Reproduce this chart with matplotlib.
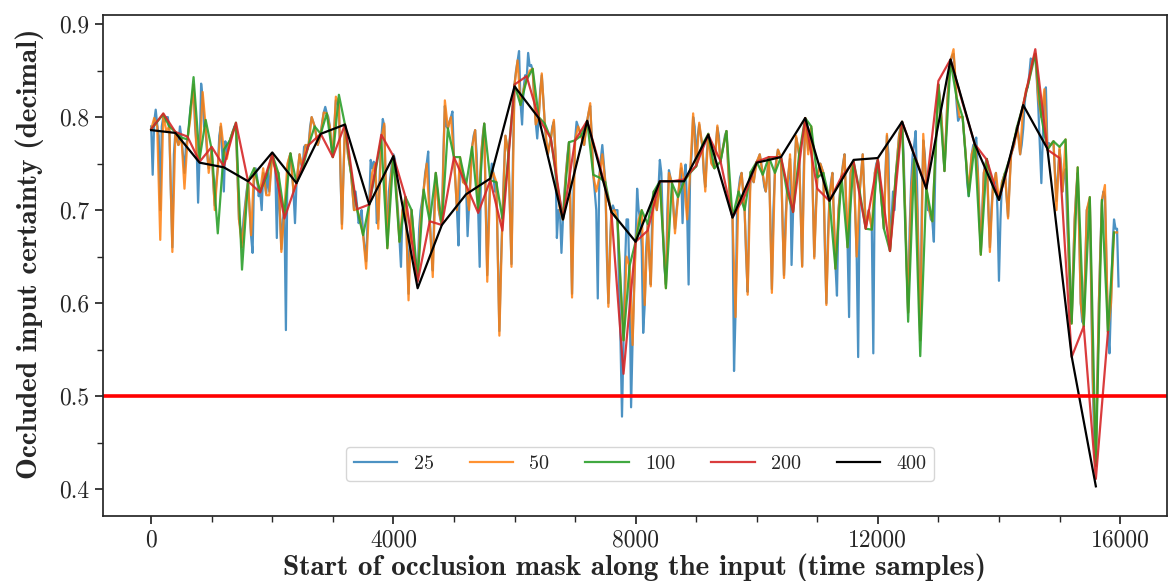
import numpy as np
import matplotlib
matplotlib.use("Agg")
import matplotlib.pyplot as plt
from matplotlib.ticker import MultipleLocator

# Mask sizes (also the stride between consecutive mask positions)
mask_sizes = [25, 50, 100, 200, 400]
signal_length = 16000

# Certainty of the occluded input, one list per mask size
certainty_25 = [
    0.790, 0.738, 0.795, 0.808, 0.792, 0.780, 0.700, 0.790, 0.800, 0.795, 0.800, 0.800, 0.785, 0.720, 0.660, 0.760, 0.784, 0.775, 0.770, 0.790,
    0.778, 0.760, 0.740, 0.770, 0.776, 0.790, 0.810, 0.820, 0.830, 0.790, 0.770, 0.708, 0.760, 0.836, 0.820, 0.790, 0.785, 0.760, 0.745, 0.755,
    0.765, 0.730, 0.705, 0.730, 0.745, 0.780, 0.790, 0.760, 0.720, 0.774, 0.760, 0.770, 0.775, 0.780, 0.785, 0.790, 0.788, 0.740, 0.690, 0.680,
    0.665, 0.690, 0.705, 0.720, 0.731, 0.700, 0.672, 0.654, 0.740, 0.745, 0.735, 0.715, 0.720, 0.700, 0.740, 0.730, 0.718, 0.740, 0.720, 0.745,
    0.760, 0.750, 0.745, 0.670, 0.740, 0.700, 0.658, 0.690, 0.700, 0.571, 0.745, 0.755, 0.761, 0.740, 0.720, 0.686, 0.729, 0.745, 0.760, 0.750,
    0.745, 0.768, 0.770, 0.765, 0.770, 0.790, 0.800, 0.795, 0.790, 0.780, 0.770, 0.775, 0.782, 0.795, 0.805, 0.811, 0.804, 0.800, 0.790, 0.770,
    0.757, 0.790, 0.818, 0.815, 0.812, 0.740, 0.685, 0.740, 0.790, 0.780, 0.760, 0.750, 0.740, 0.720, 0.700, 0.720, 0.705, 0.686, 0.690, 0.700,
    0.675, 0.660, 0.645, 0.690, 0.706, 0.754, 0.745, 0.752, 0.750, 0.686, 0.690, 0.740, 0.777, 0.798, 0.790, 0.720, 0.662, 0.720, 0.735, 0.750,
    0.760, 0.755, 0.720, 0.700, 0.670, 0.639, 0.700, 0.705, 0.714, 0.660, 0.610, 0.680, 0.700, 0.680, 0.650, 0.640, 0.628, 0.680, 0.700, 0.710,
    0.722, 0.740, 0.750, 0.763, 0.690, 0.660, 0.635, 0.700, 0.740, 0.720, 0.700, 0.690, 0.684, 0.760, 0.812, 0.790, 0.788, 0.795, 0.800, 0.806,
    0.757, 0.730, 0.700, 0.662, 0.750, 0.745, 0.730, 0.730, 0.727, 0.672, 0.705, 0.740, 0.768, 0.780, 0.786, 0.760, 0.700, 0.639, 0.760, 0.780,
    0.793, 0.700, 0.630, 0.700, 0.732, 0.750, 0.740, 0.720, 0.730, 0.650, 0.570, 0.640, 0.691, 0.740, 0.780, 0.770, 0.760, 0.700, 0.642, 0.760,
    0.835, 0.850, 0.860, 0.871, 0.815, 0.792, 0.830, 0.845, 0.840, 0.869, 0.855, 0.856, 0.850, 0.820, 0.795, 0.777, 0.800, 0.830, 0.845, 0.820,
    0.793, 0.770, 0.760, 0.770, 0.777, 0.790, 0.795, 0.760, 0.670, 0.700, 0.700, 0.654, 0.690, 0.720, 0.740, 0.760, 0.773, 0.700, 0.610, 0.720,
    0.775, 0.795, 0.790, 0.785, 0.780, 0.775, 0.770, 0.785, 0.796, 0.805, 0.812, 0.780, 0.738, 0.720, 0.700, 0.605, 0.735, 0.755, 0.770, 0.750,
    0.730, 0.650, 0.600, 0.660, 0.700, 0.705, 0.700, 0.700, 0.700, 0.620, 0.560, 0.478, 0.560, 0.640, 0.690, 0.690, 0.620, 0.488, 0.560, 0.620,
    0.666, 0.723, 0.700, 0.690, 0.660, 0.568, 0.598, 0.660, 0.685, 0.650, 0.620, 0.700, 0.720, 0.710, 0.700, 0.720, 0.754, 0.740, 0.680, 0.640,
    0.620, 0.700, 0.743, 0.735, 0.729, 0.700, 0.680, 0.700, 0.714, 0.730, 0.745, 0.686, 0.731, 0.749, 0.700, 0.620, 0.740, 0.760, 0.800, 0.790,
    0.747, 0.780, 0.792, 0.780, 0.770, 0.740, 0.725, 0.760, 0.782, 0.770, 0.752, 0.748, 0.745, 0.770, 0.789, 0.780, 0.752, 0.760, 0.770, 0.780,
    0.785, 0.750, 0.720, 0.700, 0.692, 0.527, 0.590, 0.700, 0.722, 0.735, 0.740, 0.720, 0.700, 0.650, 0.612, 0.700, 0.741, 0.735, 0.730, 0.745,
    0.752, 0.755, 0.760, 0.750, 0.738, 0.725, 0.720, 0.740, 0.757, 0.690, 0.615, 0.700, 0.740, 0.755, 0.765, 0.760, 0.757, 0.690, 0.630, 0.690,
    0.720, 0.740, 0.755, 0.641, 0.698, 0.750, 0.778, 0.770, 0.760, 0.700, 0.640, 0.740, 0.797, 0.785, 0.765, 0.780, 0.788, 0.720, 0.650, 0.700,
    0.735, 0.745, 0.750, 0.745, 0.740, 0.660, 0.600, 0.670, 0.712, 0.730, 0.740, 0.690, 0.640, 0.608, 0.700, 0.720, 0.736, 0.750, 0.760, 0.710,
    0.662, 0.585, 0.740, 0.748, 0.752, 0.700, 0.652, 0.542, 0.720, 0.740, 0.760, 0.720, 0.682, 0.690, 0.700, 0.690, 0.680, 0.546, 0.740, 0.750,
    0.754, 0.740, 0.720, 0.700, 0.680, 0.740, 0.780, 0.760, 0.658, 0.690, 0.720, 0.700, 0.740, 0.760, 0.780, 0.790, 0.795, 0.760, 0.700, 0.640,
    0.590, 0.680, 0.730, 0.760, 0.770, 0.785, 0.720, 0.640, 0.560, 0.700, 0.775, 0.760, 0.724, 0.700, 0.700, 0.690, 0.688, 0.666, 0.750, 0.800,
    0.835, 0.820, 0.800, 0.770, 0.742, 0.780, 0.820, 0.845, 0.860, 0.866, 0.868, 0.845, 0.815, 0.796, 0.800, 0.800, 0.800, 0.780, 0.760, 0.730,
    0.715, 0.740, 0.760, 0.770, 0.771, 0.778, 0.745, 0.700, 0.655, 0.700, 0.740, 0.750, 0.755, 0.700, 0.660, 0.700, 0.725, 0.730, 0.740, 0.700,
    0.624, 0.690, 0.730, 0.735, 0.740, 0.715, 0.693, 0.730, 0.760, 0.765, 0.770, 0.780, 0.790, 0.780, 0.760, 0.770, 0.787, 0.815, 0.830, 0.832,
    0.845, 0.863, 0.860, 0.862, 0.866, 0.840, 0.810, 0.770, 0.729, 0.780, 0.820, 0.832, 0.768, 0.772, 0.770, 0.772, 0.774, 0.740, 0.710, 0.740,
    0.765, 0.750, 0.720, 0.740, 0.744, 0.690, 0.650, 0.600, 0.580, 0.640, 0.690, 0.720, 0.740, 0.680, 0.600, 0.580, 0.578, 0.640, 0.700, 0.705,
    0.712, 0.600, 0.510, 0.450, 0.435, 0.520, 0.600, 0.660, 0.708, 0.720, 0.715, 0.640, 0.570, 0.546, 0.600, 0.660, 0.690, 0.680, 0.680, 0.618,
]

certainty_50 = [
    0.787, 0.799, 0.790, 0.668, 0.803, 0.785, 0.790, 0.655, 0.784, 0.770, 0.778, 0.723, 0.776, 0.800, 0.835, 0.760, 0.755, 0.827, 0.790, 0.740,
    0.765, 0.700, 0.745, 0.793, 0.765, 0.755, 0.775, 0.785, 0.790, 0.690, 0.660, 0.700, 0.731, 0.673, 0.745, 0.730, 0.720, 0.745, 0.716, 0.716,
    0.760, 0.745, 0.740, 0.655, 0.700, 0.750, 0.761, 0.720, 0.729, 0.760, 0.745, 0.770, 0.770, 0.800, 0.790, 0.770, 0.782, 0.805, 0.804, 0.790,
    0.757, 0.822, 0.815, 0.680, 0.792, 0.760, 0.740, 0.700, 0.701, 0.690, 0.673, 0.637, 0.706, 0.740, 0.750, 0.680, 0.777, 0.793, 0.659, 0.730,
    0.758, 0.720, 0.666, 0.700, 0.714, 0.603, 0.700, 0.650, 0.625, 0.690, 0.722, 0.750, 0.688, 0.628, 0.740, 0.700, 0.684, 0.818, 0.788, 0.800,
    0.757, 0.700, 0.757, 0.730, 0.727, 0.700, 0.768, 0.786, 0.700, 0.760, 0.793, 0.623, 0.732, 0.740, 0.730, 0.565, 0.691, 0.780, 0.760, 0.639,
    0.835, 0.861, 0.813, 0.830, 0.840, 0.850, 0.852, 0.792, 0.800, 0.847, 0.793, 0.760, 0.777, 0.797, 0.730, 0.700, 0.690, 0.740, 0.773, 0.606,
    0.775, 0.790, 0.780, 0.770, 0.796, 0.815, 0.738, 0.720, 0.735, 0.760, 0.730, 0.596, 0.698, 0.700, 0.690, 0.620, 0.560, 0.650, 0.640, 0.555,
    0.666, 0.690, 0.700, 0.598, 0.685, 0.618, 0.720, 0.700, 0.731, 0.680, 0.616, 0.740, 0.729, 0.675, 0.714, 0.750, 0.731, 0.690, 0.740, 0.804,
    0.747, 0.794, 0.770, 0.720, 0.782, 0.750, 0.745, 0.791, 0.752, 0.770, 0.785, 0.720, 0.692, 0.585, 0.720, 0.740, 0.700, 0.609, 0.741, 0.730,
    0.752, 0.760, 0.738, 0.720, 0.757, 0.611, 0.740, 0.765, 0.757, 0.627, 0.720, 0.760, 0.698, 0.780, 0.760, 0.639, 0.799, 0.760, 0.790, 0.648,
    0.735, 0.750, 0.740, 0.598, 0.712, 0.740, 0.637, 0.700, 0.736, 0.760, 0.660, 0.740, 0.752, 0.650, 0.720, 0.760, 0.680, 0.700, 0.679, 0.740,
    0.754, 0.720, 0.680, 0.782, 0.656, 0.700, 0.740, 0.780, 0.795, 0.700, 0.590, 0.720, 0.755, 0.700, 0.560, 0.782, 0.724, 0.700, 0.688, 0.760,
    0.835, 0.800, 0.742, 0.820, 0.860, 0.873, 0.821, 0.800, 0.800, 0.760, 0.720, 0.760, 0.771, 0.740, 0.652, 0.740, 0.755, 0.655, 0.725, 0.740,
    0.711, 0.730, 0.740, 0.691, 0.760, 0.770, 0.790, 0.760, 0.813, 0.830, 0.840, 0.860, 0.868, 0.820, 0.800, 0.830, 0.765, 0.770, 0.774, 0.700,
    0.768, 0.720, 0.776, 0.650, 0.578, 0.690, 0.746, 0.600, 0.575, 0.700, 0.714, 0.520, 0.430, 0.600, 0.711, 0.727, 0.569, 0.600, 0.676, 0.676,
]

certainty_100 = [
    0.787, 0.795, 0.803, 0.790, 0.784, 0.778, 0.776, 0.843, 0.755, 0.797,
    0.765, 0.675, 0.765, 0.775, 0.794, 0.636, 0.731, 0.745, 0.720, 0.735,
    0.760, 0.740, 0.695, 0.761, 0.729, 0.745, 0.770, 0.790, 0.782, 0.804,
    0.757, 0.824, 0.792, 0.740, 0.701, 0.673, 0.706, 0.740, 0.777, 0.659,
    0.758, 0.666, 0.714, 0.700, 0.625, 0.722, 0.688, 0.740, 0.684, 0.788,
    0.757, 0.757, 0.727, 0.768, 0.700, 0.793, 0.732, 0.730, 0.691, 0.760,
    0.835, 0.813, 0.840, 0.852, 0.800, 0.793, 0.777, 0.730, 0.690, 0.773,
    0.775, 0.780, 0.796, 0.738, 0.735, 0.730, 0.698, 0.690, 0.560, 0.640,
    0.666, 0.700, 0.685, 0.720, 0.731, 0.616, 0.729, 0.714, 0.731, 0.740,
    0.747, 0.770, 0.782, 0.745, 0.752, 0.785, 0.692, 0.720, 0.700, 0.741,
    0.752, 0.738, 0.757, 0.740, 0.757, 0.720, 0.698, 0.760, 0.799, 0.790,
    0.735, 0.740, 0.712, 0.637, 0.736, 0.660, 0.752, 0.720, 0.680, 0.679,
    0.754, 0.680, 0.656, 0.740, 0.795, 0.580, 0.755, 0.543, 0.724, 0.688,
    0.835, 0.742, 0.860, 0.821, 0.800, 0.715, 0.771, 0.652, 0.755, 0.725,
    0.711, 0.740, 0.760, 0.790, 0.813, 0.840, 0.868, 0.800, 0.765, 0.774,
    0.768, 0.776, 0.578, 0.746, 0.575, 0.714, 0.425, 0.711, 0.569, 0.676,
]

certainty_200 = [
    0.787, 0.804, 0.784, 0.779, 0.752, 0.768, 0.747, 0.794, 0.731, 0.719,
    0.760, 0.691, 0.729, 0.770, 0.782, 0.757, 0.792, 0.701, 0.706, 0.781,
    0.758, 0.714, 0.623, 0.688, 0.684, 0.757, 0.727, 0.697, 0.732, 0.678,
    0.835, 0.844, 0.799, 0.777, 0.690, 0.775, 0.796, 0.750, 0.698, 0.524,
    0.666, 0.678, 0.731, 0.731, 0.733, 0.748, 0.781, 0.753, 0.692, 0.715,
    0.752, 0.757, 0.757, 0.698, 0.799, 0.723, 0.710, 0.736, 0.752, 0.680,
    0.754, 0.656, 0.795, 0.760, 0.724, 0.839, 0.862, 0.815, 0.771, 0.754,
    0.711, 0.760, 0.813, 0.873, 0.765, 0.756, 0.542, 0.575, 0.411, 0.569,
]

certainty_400 = [
    0.786, 0.783, 0.751, 0.746, 0.731, 0.762, 0.729, 0.782, 0.792, 0.706,
    0.758, 0.616, 0.684, 0.717, 0.734, 0.833, 0.799, 0.690, 0.796, 0.698,
    0.666, 0.731, 0.731, 0.781, 0.692, 0.751, 0.757, 0.799, 0.710, 0.754,
    0.756, 0.795, 0.723, 0.862, 0.771, 0.711, 0.813, 0.766, 0.543, 0.403,
]

series = {
    25: certainty_25,
    50: certainty_50,
    100: certainty_100,
    200: certainty_200,
    400: certainty_400,
}
colors = ["#1f77b4", "#ff7f0e", "#2ca02c", "#d62728", "black"]
alphas = [0.8, 0.85, 0.9, 0.9, 1.0]

threshold = 0.5
x_ticks = [0, 4000, 8000, 12000, 16000]
y_ticks = [0.4, 0.5, 0.6, 0.7, 0.8, 0.9]

ink = "0.15"
plt.rcParams.update({
    "font.family": "cmr10",
    "axes.formatter.use_mathtext": True,
    "axes.linewidth": 1.25,
    "axes.edgecolor": ink,
    "xtick.color": ink,
    "ytick.color": ink,
    "xtick.direction": "out",
    "ytick.direction": "out",
    "xtick.major.size": 6,
    "ytick.major.size": 6,
    "xtick.minor.size": 4,
    "ytick.minor.size": 4,
    "xtick.major.width": 1.25,
    "ytick.major.width": 1.25,
    "xtick.minor.width": 1.0,
    "ytick.minor.width": 1.0,
})

fig = plt.figure(figsize=(11.68, 5.81), dpi=100)
ax = fig.add_axes([0.0880, 0.1120, 0.9111, 0.8627])

for (size, values), color, alpha in zip(series.items(), colors, alphas):
    xs = np.arange(len(values)) * size
    ax.plot(xs, values, color=color, alpha=alpha, lw=1.6, label=str(size))

ax.axhline(threshold, color="red", lw=2.6)

ax.set_xlim(-799, 16774)
ax.set_ylim(0.3712, 0.9101)
ax.set_xticks(x_ticks)
ax.set_xticklabels([str(t) for t in x_ticks])
ax.set_yticks(y_ticks)
ax.set_yticklabels([f"{t:.1f}" for t in y_ticks])
ax.xaxis.set_minor_locator(MultipleLocator(1000))
ax.yaxis.set_minor_locator(MultipleLocator(0.05))
ax.tick_params(axis="both", which="major", labelsize=17, labelcolor=ink)

ax.set_xlabel("Start of occlusion mask along the input (time samples)",
              family="cmb10", fontsize=21, color=ink, labelpad=1.5)
ax.set_ylabel("Occluded input certainty (decimal)",
              family="cmb10", fontsize=21, color=ink, labelpad=11)
ax.yaxis.label.set_y(0.523)

leg = ax.legend(loc="lower center", bbox_to_anchor=(0.505, 0.07), ncol=5,
                borderaxespad=0, fontsize=14.5, handlelength=2.15,
                columnspacing=1.8, frameon=True)
for text in leg.get_texts():
    text.set_color(ink)

fig.savefig("out.png", dpi=100)
